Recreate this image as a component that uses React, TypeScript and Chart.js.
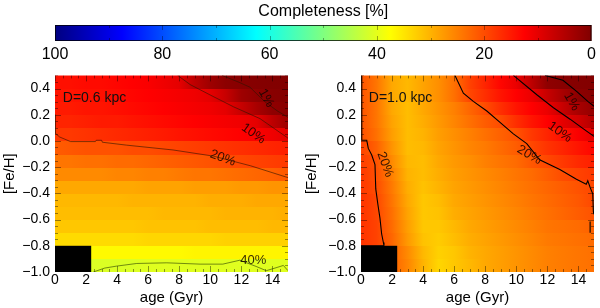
import React, { useEffect, useRef } from 'react';
import { Chart, registerables } from 'chart.js';
Chart.register(...registerables);

const FONT = 'Liberation Sans, Arial, Helvetica, sans-serif';

// ---- grid axes ----
const AGE_NODES = [0, 1, 2, 3, 4, 5, 6, 7, 8, 9, 10, 11, 12, 13, 14, 15];
const FEH_EDGES = [-1.0, -0.9, -0.8, -0.7, -0.6, -0.5, -0.4, -0.3, -0.2, -0.1, 0.0, 0.1, 0.2, 0.3, 0.4, 0.5];

// completeness [%], rows bottom (-0.95) to top (0.45), columns = AGE_NODES
const COMPL_D06 = [
  [41, 41, 41, 41, 41, 41, 40.5, 40.5, 40.5, 40.5, 40.5, 40.5, 40.5, 40.5, 40.5, 40.5],
  [37, 37, 37, 37, 37, 37, 37, 37, 37, 36.5, 36.5, 36.5, 36.5, 36.5, 36.5, 36.5],
  [34, 34, 34, 34, 34, 34, 33.5, 33.5, 33.5, 33.5, 33.5, 33, 33, 33, 33, 33],
  [32, 32, 32, 32, 32, 32, 31.5, 31.5, 31.5, 31.5, 31, 31, 31, 31, 30.5, 30.5],
  [31, 31, 31, 31, 31, 31, 31, 30.5, 30.5, 30.5, 30.5, 30, 30, 30, 30, 29.5],
  [30.5, 30.5, 30.5, 30.5, 30.5, 30, 30, 30, 30, 30, 29.5, 29.5, 29.5, 29, 29, 29],
  [29, 29, 29, 29, 29, 29, 28.5, 28.5, 28.5, 28, 28, 28, 27.5, 27.5, 27, 27],
  [26, 26, 26, 26, 25.5, 25.5, 25, 25, 24.5, 24, 24, 23.5, 23, 22.5, 22, 21],
  [24, 24, 23.5, 23.5, 23, 23, 22.5, 22, 21.5, 21, 20.5, 20, 19.5, 19, 18.5, 18],
  [21.5, 21, 20.5, 20.5, 20.5, 20, 20, 19.5, 19, 18.5, 18, 17.5, 17, 16.5, 16, 15.5],
  [18, 18, 17.5, 17, 16.5, 16, 15.5, 15, 14.5, 14, 13.5, 13, 12.5, 12, 11, 10],
  [16, 16, 15.5, 15, 15, 14.5, 14, 13.5, 13, 12.5, 12, 11.5, 11, 10, 6, 3],
  [15, 15, 14.5, 14.5, 14, 13.5, 13, 12.5, 12, 11.5, 11, 10, 7, 4, 1.5, 1],
  [14.5, 14.5, 14, 14, 13.5, 13, 12.5, 12, 11.5, 11, 10, 7, 3, 1.5, 0.8, 0.5],
  [14, 14, 13.5, 13.5, 13, 12.5, 12, 11, 10, 6, 3, 1.2, 0.8, 0.5, 0.3, 0.2],
];

const COMPL_D10 = [
  [18, 19.5, 22, 25.5, 30, 33.5, 32, 30.5, 29, 28, 27, 26, 25, 24.5, 24, 23.5],
  [18, 19.5, 22, 26, 30.5, 33, 32, 30, 29, 28, 27, 26, 25, 24.5, 24, 23.5],
  [17.5, 19, 22.5, 27.5, 31.5, 32.5, 31, 29.5, 28.5, 27.5, 26.5, 25.5, 24.5, 24, 23.5, 23],
  [17.5, 19, 23, 28, 32, 32, 30.5, 29, 28, 27, 26, 25, 24, 23.5, 23, 22],
  [17.5, 19.5, 23.5, 28.5, 32, 31.5, 29.5, 28.5, 27.5, 26.5, 25.5, 24.5, 23.5, 22.5, 21.5, 20.5],
  [17.5, 19.5, 24, 29, 32, 31, 29, 28, 27, 26, 25, 24, 23, 22, 21, 19.5],
  [18, 20, 24.5, 29.5, 31.5, 30, 28.5, 27.5, 26.5, 25.5, 24.5, 23.5, 22.5, 21.5, 20.5, 19.5],
  [18, 20.3, 25, 30, 31, 29.5, 28, 27, 26, 25, 24, 23, 21.5, 20, 19, 18],
  [18.5, 20.5, 26, 30.5, 31, 29, 27.5, 26.5, 25, 24, 23, 21, 19.5, 18, 16.5, 15.5],
  [19, 22, 27, 31, 30.5, 28.5, 27, 25.5, 24.5, 23, 21.5, 19.5, 17.5, 16, 14.5, 13],
  [20.2, 23.5, 28, 31, 30, 28, 26.5, 25, 23.5, 22, 20.5, 18, 16, 14, 12, 10],
  [20.5, 24, 28.5, 31, 29.5, 27.5, 25.5, 23.5, 21.5, 20, 17, 14.5, 12.5, 10, 8, 5],
  [20.5, 24, 29, 31, 29, 27, 25, 22.5, 20, 17, 14.5, 12.5, 10.5, 7, 4, 2],
  [20.5, 24, 29, 30.5, 28.5, 26.5, 23.5, 19.5, 17, 14.5, 12.5, 10.5, 7, 4, 1.2, 0.6],
  [20.5, 24, 29, 30.5, 28.5, 26.5, 23.5, 19, 16, 13, 10.5, 6, 1.5, 0.8, 0.5, 0.3],
];

// no-data region (black box)
const NO_DATA_AGE = [0, 2.33];
const NO_DATA_FEH = [-1.0, -0.8];

// ---- contour lines [age, feh] ----
const C06_1 = [[10.75, 0.5], [11.8, 0.45], [12.55, 0.41], [13.5, 0.3], [14.3, 0.23], [15, 0.18]];
const C06_10 = [[7.9, 0.5], [8.7, 0.43], [10.0, 0.35], [11.5, 0.26], [13.2, 0.17], [14.9, 0.03], [15, 0.02]];
const C06_20 = [[0, 0.2], [0, 0.06], [0.3, 0.03], [1.0, -0.005], [2.6, -0.005], [2.65, 0.005], [3.0, 0.005], [3.05, -0.01], [4.6, -0.032], [7.6, -0.069], [10.2, -0.116], [12.6, -0.19], [15, -0.28]];
const C06_40 = [[2.47, -1.0], [3.2, -0.97], [3.97, -0.955], [5.26, -0.935], [7.19, -0.93], [9.34, -0.94], [10.8, -0.94], [11.9, -0.91], [13.0, -0.96], [13.6, -0.99], [14.3, -0.965], [14.7, -0.95], [15, -0.99]];

const C10_1 = [[11.85, 0.5], [13.0, 0.463], [13.9, 0.376], [14.6, 0.302], [15, 0.265]];
const C10_10 = [[9.81, 0.5], [11.32, 0.352], [12.39, 0.253], [13.46, 0.166], [14.32, 0.092], [15, 0.035]];
const C10_20A = [[0.05, 0.5], [0.05, 0.005], [0.37, 0.005], [0.47, -0.057], [0.69, -0.107], [0.9, -0.18], [0.95, -0.366], [1.09, -0.487], [1.22, -0.589], [1.33, -0.71], [1.44, -0.775], [1.48, -0.8], [0, -0.8]];
const C10_20B = [[6.05, 0.5], [6.59, 0.364], [7.23, 0.302], [8.1, 0.228], [8.95, 0.141], [9.81, 0.054], [10.67, -0.02], [11.5, -0.144], [12.8, -0.218], [13.87, -0.292], [14.5, -0.33], [14.6, -0.304], [14.75, -0.354], [14.92, -0.404], [14.96, -0.539], [15, -0.56]];
const C10_20C = [[14.75, -0.614], [14.75, -0.7]];

// contour labels [text, age, feh, rotation deg]
const LABELS_D06: [string, number, number, number][] = [
  ['1%', 13.6, 0.327, 60], ['10%', 12.77, 0.055, 35], ['20%', 10.8, -0.131, 20], ['40%', 12.77, -0.91, 0],
];
const LABELS_D10: [string, number, number, number][] = [
  ['1%', 13.56, 0.3, 60], ['10%', 12.81, 0.067, 35], ['20%', 10.84, -0.107, 30], ['20%', 1.55, -0.18, 70],
];

const X_TICKS = [0, 2, 4, 6, 8, 10, 12, 14];
const Y_TICKS = [-1.0, -0.8, -0.6, -0.4, -0.2, 0.0, 0.2, 0.4];
const CB_TICKS = [100, 80, 60, 40, 20, 0];
const CB_STOPS = [100, 87.5, 62.5, 37.5, 12.5, 0];

function jet(c: number) {
  const t = Math.min(1, Math.max(0, 1 - c / 100));
  const cl = (v: number) => Math.max(0, Math.min(1, v));
  const r = cl(Math.min(4 * t - 1.5, -4 * t + 4.5));
  const g = cl(Math.min(4 * t - 0.5, -4 * t + 3.5));
  const b = cl(Math.min(4 * t + 0.5, -4 * t + 2.5));
  return `rgb(${Math.round(r * 255)},${Math.round(g * 255)},${Math.round(b * 255)})`;
}

const fmtY = (v: number) => (v < -1e-9 ? '\u2212' : '') + Math.abs(v).toFixed(1);

function panelConfig(grid: number[][], contours: { pts: number[][]; color: string; width: number }[],
  labels: [string, number, number, number][], dText: string, yWidth: number, padRight: number, yTitlePad: number) {
  const heatPlugin = {
    id: 'heat',
    beforeDatasetsDraw(chart: any) {
      const { ctx, chartArea: a, scales: { x, y } } = chart;
      ctx.save();
      ctx.beginPath();
      ctx.rect(a.left, a.top, a.width, a.height);
      ctx.clip();
      const n = AGE_NODES.length;
      const x0 = x.getPixelForValue(AGE_NODES[0]);
      const x1 = x.getPixelForValue(AGE_NODES[n - 1]);
      grid.forEach((row, i) => {
        const yb = y.getPixelForValue(FEH_EDGES[i]);
        const yt = y.getPixelForValue(FEH_EDGES[i + 1]);
        const g = ctx.createLinearGradient(x0, 0, x1, 0);
        row.forEach((c, j) => g.addColorStop((AGE_NODES[j] - AGE_NODES[0]) / (AGE_NODES[n - 1] - AGE_NODES[0]), jet(c)));
        ctx.fillStyle = g;
        ctx.fillRect(x0, Math.floor(yt), x1 - x0, Math.ceil(yb) - Math.floor(yt));
      });
      // no-data box
      const bx0 = x.getPixelForValue(NO_DATA_AGE[0]);
      const bx1 = x.getPixelForValue(NO_DATA_AGE[1]);
      const by0 = y.getPixelForValue(NO_DATA_FEH[1]);
      const by1 = y.getPixelForValue(NO_DATA_FEH[0]);
      ctx.fillStyle = '#000';
      ctx.fillRect(bx0, by0, bx1 - bx0, by1 - by0);
      // inward ticks
      ctx.strokeStyle = 'rgba(0,0,0,0.4)';
      ctx.lineWidth = 1;
      const line = (ax: number, ay: number, bx: number, by: number) => { ctx.beginPath(); ctx.moveTo(ax, ay); ctx.lineTo(bx, by); ctx.stroke(); };
      for (let k = 0; k <= 30; k++) {
        const v = k * 0.5;
        const px = Math.round(x.getPixelForValue(v)) + 0.5;
        const L = k % 4 === 0 ? 6 : 3;
        line(px, a.bottom, px, a.bottom - L);
        line(px, a.top, px, a.top + L);
      }
      for (let k = 0; k <= 30; k++) {
        const v = -1 + k * 0.05;
        const py = Math.round(y.getPixelForValue(v)) + 0.5;
        const L = k % 4 === 0 ? 6 : 3;
        line(a.left, py, a.left + L, py);
        line(a.right, py, a.right - L, py);
      }
      ctx.restore();
    },
    afterDatasetsDraw(chart: any) {
      const { ctx, scales: { x, y } } = chart;
      ctx.save();
      ctx.fillStyle = 'rgba(20,5,0,0.85)';
      ctx.font = `13px ${FONT}`;
      ctx.textAlign = 'center';
      ctx.textBaseline = 'middle';
      labels.forEach(([t, a, f, r]) => {
        ctx.save();
        ctx.translate(x.getPixelForValue(a), y.getPixelForValue(f));
        ctx.rotate((r * Math.PI) / 180);
        ctx.fillText(t, 0, 0);
        ctx.restore();
      });
      ctx.fillStyle = '#111';
      ctx.font = `14px ${FONT}`;
      ctx.textAlign = 'left';
      ctx.fillText(dText, x.getPixelForValue(0.5), y.getPixelForValue(0.327));
      ctx.restore();
    },
  };
  return {
    type: 'scatter',
    data: {
      datasets: contours.map((c) => ({
        data: c.pts.map(([a, f]) => ({ x: a, y: f })),
        showLine: true,
        pointRadius: 0,
        borderColor: c.color,
        borderWidth: c.width,
        fill: false,
        tension: 0,
      })),
    },
    options: {
      animation: false,
      responsive: false,
      events: [],
      layout: { padding: { top: 8, right: padRight, bottom: 0, left: 0 } },
      plugins: { legend: { display: false }, tooltip: { enabled: false } },
      scales: {
        x: {
          type: 'linear', min: 0, max: 15,
          afterBuildTicks: (s: any) => { s.ticks = X_TICKS.map((v) => ({ value: v })); },
          afterFit: (s: any) => { s.height = 36; },
          grid: { display: false, drawTicks: false },
          border: { display: false },
          ticks: { color: '#000', font: { family: FONT, size: 14 }, padding: 0, maxRotation: 0, autoSkip: false, callback: (v: any) => String(v) },
          title: { display: true, text: 'age (Gyr)', color: '#000', font: { family: FONT, size: 15 }, padding: { top: 0, bottom: 1 } },
        },
        y: {
          type: 'linear', min: -1, max: 0.5,
          afterBuildTicks: (s: any) => { s.ticks = Y_TICKS.map((v) => ({ value: v })); },
          afterFit: (s: any) => { s.width = yWidth; },
          grid: { display: false, drawTicks: false },
          border: { display: false },
          ticks: { color: '#000', font: { family: FONT, size: 14 }, padding: 5, autoSkip: false, callback: (v: any) => fmtY(Number(v)) },
          title: { display: true, text: '[Fe/H]', color: '#000', font: { family: FONT, size: 15 }, padding: { top: yTitlePad, bottom: 0 } },
        },
      },
    },
    plugins: [heatPlugin],
  } as any;
}

function colorbarConfig() {
  const cbPlugin = {
    id: 'cb',
    beforeDatasetsDraw(chart: any) {
      const { ctx, chartArea: a, scales: { x } } = chart;
      const p100 = x.getPixelForValue(CB_STOPS[0]);
      const p0 = x.getPixelForValue(CB_STOPS[CB_STOPS.length - 1]);
      const g = ctx.createLinearGradient(p100, 0, p0, 0);
      CB_STOPS.forEach((v) => g.addColorStop((x.getPixelForValue(v) - p100) / (p0 - p100), jet(v)));
      ctx.save();
      ctx.fillStyle = g;
      ctx.fillRect(a.left, a.top, a.width, a.height);
      ctx.strokeStyle = 'rgba(0,0,0,0.35)';
      ctx.lineWidth = 1;
      for (let k = 1; k < 10; k++) {
        const px = Math.round(x.getPixelForValue(k * 10)) + 0.5;
        const L = k % 2 === 0 ? 5 : 3;
        ctx.beginPath(); ctx.moveTo(px, a.bottom); ctx.lineTo(px, a.bottom - L); ctx.stroke();
        ctx.beginPath(); ctx.moveTo(px, a.top); ctx.lineTo(px, a.top + L); ctx.stroke();
      }
      ctx.strokeStyle = 'rgba(0,0,0,0.75)';
      ctx.strokeRect(a.left + 0.5, a.top + 0.5, a.width - 1, a.height - 1);
      ctx.fillStyle = '#000';
      ctx.font = `16px ${FONT}`;
      ctx.textAlign = 'center';
      ctx.textBaseline = 'middle';
      ctx.fillText('Completeness [%]', (a.left + a.right) / 2, 12);
      ctx.restore();
    },
  };
  return {
    type: 'scatter',
    data: { datasets: [] },
    options: {
      animation: false,
      responsive: false,
      events: [],
      layout: { padding: { top: 25, right: 6, bottom: 0, left: 55 } },
      plugins: { legend: { display: false }, tooltip: { enabled: false } },
      scales: {
        x: {
          type: 'linear', min: 0, max: 100, reverse: true,
          afterBuildTicks: (s: any) => { s.ticks = CB_TICKS.map((v) => ({ value: v })); },
          afterFit: (s: any) => { s.height = 29; },
          grid: { display: false, drawTicks: false },
          border: { display: false },
          ticks: { color: '#000', font: { family: FONT, size: 16 }, padding: 4, maxRotation: 0, autoSkip: false, callback: (v: any) => String(v) },
        },
        y: { display: false, min: 0, max: 1 },
      },
    },
    plugins: [cbPlugin],
  } as any;
}

export default function App() {
  const cbRef = useRef<HTMLCanvasElement>(null);
  const lRef = useRef<HTMLCanvasElement>(null);
  const rRef = useRef<HTMLCanvasElement>(null);

  useEffect(() => {
    const thin = 'rgba(45,20,0,0.75)';
    const charts = [
      new Chart(cbRef.current!, colorbarConfig()),
      new Chart(lRef.current!, panelConfig(COMPL_D06, [
        { pts: C06_1, color: thin, width: 0.8 },
        { pts: C06_10, color: thin, width: 0.8 },
        { pts: C06_20, color: thin, width: 0.8 },
        { pts: C06_40, color: 'rgba(40,60,0,0.75)', width: 0.8 },
      ], LABELS_D06, 'D=0.6 kpc', 55, 12, 1)),
      new Chart(rRef.current!, panelConfig(COMPL_D10, [
        { pts: C10_1, color: '#000', width: 1.1 },
        { pts: C10_10, color: '#000', width: 1.1 },
        { pts: C10_20A, color: '#000', width: 1.1 },
        { pts: C10_20B, color: '#000', width: 1.1 },
        { pts: C10_20C, color: '#000', width: 1.1 },
      ], LABELS_D10, 'D=1.0 kpc', 61, 6, 2.7)),
    ];
    return () => charts.forEach((c) => c.destroy());
  }, []);

  return (
    <div style={{ position: 'absolute', left: 0, top: 0, width: 600, height: 308, background: '#fff', overflow: 'hidden' }}>
      <canvas ref={cbRef} width={600} height={70} style={{ position: 'absolute', left: 0, top: 0, width: 600, height: 70 }} />
      <canvas ref={lRef} width={300} height={246} style={{ position: 'absolute', left: 0, top: 62, width: 300, height: 246 }} />
      <canvas ref={rRef} width={300} height={246} style={{ position: 'absolute', left: 300, top: 62, width: 300, height: 246 }} />
    </div>
  );
}
